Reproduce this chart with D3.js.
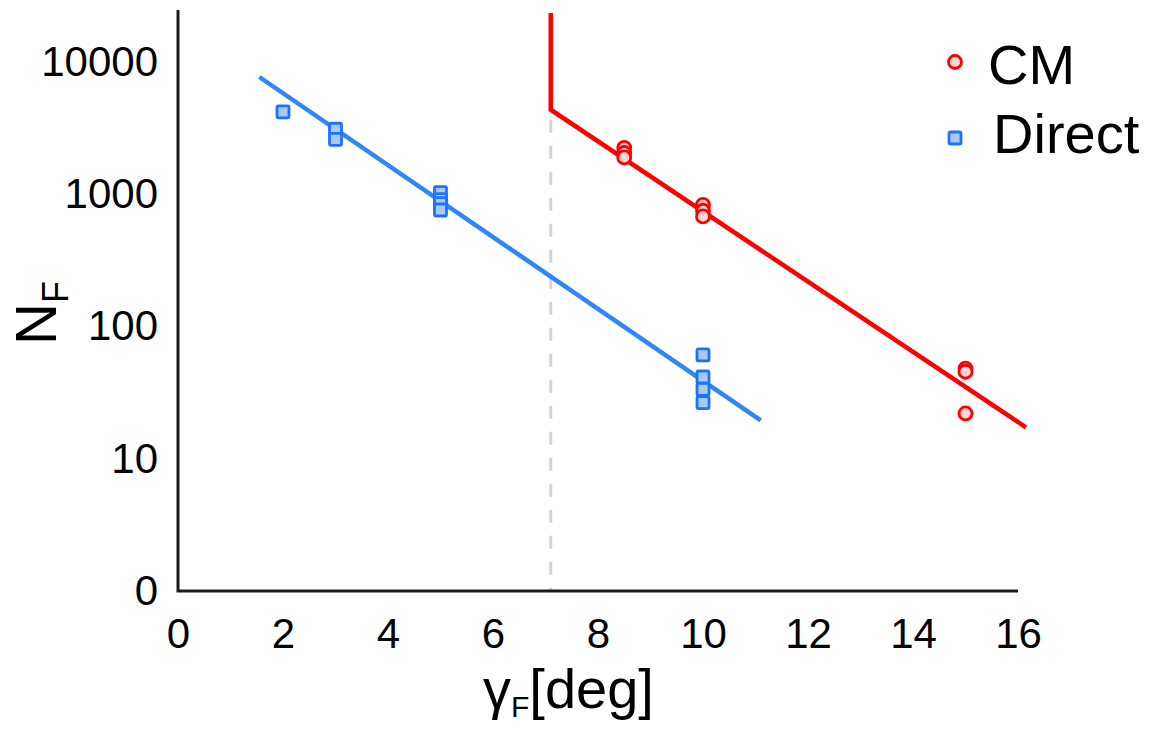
<!DOCTYPE html>
<html>
<head>
<meta charset="utf-8">
<script src="https://cdn.jsdelivr.net/npm/d3@7"></script>
<style>
  body { margin: 0; background: #fff; }
  svg { font-family: 'Liberation Sans', Arial, sans-serif; }
</style>
</head>
<body>
<div id="chart"></div>
<script>
// data
const cmX = [8.5, 8.5, 8.5, 10, 10, 10, 15, 15, 15];
const cmY = [2240, 2050, 1900, 830, 750, 680, 48, 45.5, 22];
const directX = [2, 3, 3, 5, 5, 5, 5, 10, 10, 10, 10];
const directY = [4200, 3100, 2600, 1030, 910, 850, 760, 61, 41.5, 33.5, 26.6];
// fitted lines
const cmFit = [[7.1, 23500], [7.1, 4360], [16.15, 17.3]];
const directFit = [[1.55, 7700], [11.1, 19.5]];
const thresholdX = 7.1;
const xTicks = [0, 2, 4, 6, 8, 10, 12, 14, 16];
const yTicks = [1, 10, 100, 1000, 10000];

const W = 1160;
const H = 731;

const svg = d3.select('#chart').append('svg')
  .attr('width', W)
  .attr('height', H);

const x = d3.scaleLinear().domain([0, 16]).range([178, 1018]);
const y = d3.scaleLog().domain([1, 10000]).range([591, 62]);

const red = '#ff0000';
const blue = '#2f86f6';

// axes
const xAxis = d3.axisBottom(x)
  .tickValues(xTicks)
  .tickSize(0)
  .tickPadding(27);

const yAxis = d3.axisLeft(y)
  .tickValues(yTicks)
  .tickSize(0)
  .tickPadding(20)
  .tickFormat(d => d === 1 ? '0' : String(d));

const gx = svg.append('g')
  .attr('transform', `translate(0, ${y(1)})`)
  .call(xAxis);
gx.select('.domain').remove();
gx.selectAll('text').style('font-size', '42px').attr('fill', '#000');

const gy = svg.append('g')
  .attr('transform', `translate(${x(0)}, 0)`)
  .call(yAxis);
gy.select('.domain').remove();
gy.selectAll('text').style('font-size', '42px').attr('fill', '#000');

// dashed threshold
svg.append('line')
  .attr('x1', x(thresholdX)).attr('x2', x(thresholdX))
  .attr('y1', y(4360) + 10).attr('y2', y(1))
  .attr('stroke', '#d4d4d4')
  .attr('stroke-width', 3)
  .attr('stroke-dasharray', '13,13');

// axis lines
svg.append('path')
  .attr('d', `M${x(0)},10V${y(1)}H${x(16)}`)
  .attr('fill', 'none')
  .attr('stroke', '#1a1a1a')
  .attr('stroke-width', 3);

const line = d3.line()
  .x(d => x(d[0]))
  .y(d => y(d[1]));

svg.append('path')
  .datum(directFit)
  .attr('d', line)
  .attr('fill', 'none')
  .attr('stroke', blue)
  .attr('stroke-width', 4.5);

svg.append('path')
  .datum(cmFit)
  .attr('d', line)
  .attr('fill', 'none')
  .attr('stroke', red)
  .attr('stroke-width', 4.5);

// markers
const sq = 12;
svg.append('g').selectAll('rect')
  .data(directX.map((d, i) => [d, directY[i]]))
  .enter().append('rect')
  .attr('x', d => x(d[0]) - sq / 2)
  .attr('y', d => y(d[1]) - sq / 2)
  .attr('width', sq)
  .attr('height', sq)
  .attr('rx', 1.5)
  .attr('fill', '#a9c9fb')
  .attr('stroke', '#1b74ff')
  .attr('stroke-width', 2.8);

svg.append('g').selectAll('circle')
  .data(cmX.map((d, i) => [d, cmY[i]]))
  .enter().append('circle')
  .attr('cx', d => x(d[0]))
  .attr('cy', d => y(d[1]))
  .attr('r', 6.5)
  .attr('fill', '#ffd6d6')
  .attr('stroke', red)
  .attr('stroke-width', 2.8);

// axis titles
const xt = svg.append('text')
  .attr('x', 483)
  .attr('y', 708)
  .style('font-size', '56px')
  .attr('fill', '#000');
xt.append('tspan').text('γ');
xt.append('tspan').text('F').style('font-size', '30px').attr('dy', 9);
xt.append('tspan').text('[deg]').attr('dy', -9);

const yt = svg.append('text')
  .attr('transform', 'translate(56, 345) rotate(-90)')
  .style('font-size', '58px')
  .attr('fill', '#000');
yt.append('tspan').text('N');
yt.append('tspan').text('F').style('font-size', '36px').attr('dy', 12);

// legend
const legend = svg.append('g');
legend.append('circle')
  .attr('cx', 955).attr('cy', 62).attr('r', 6.5)
  .attr('fill', '#ffd6d6')
  .attr('stroke', red)
  .attr('stroke-width', 2.8);
legend.append('text')
  .attr('x', 988).attr('y', 84)
  .style('font-size', '56px')
  .text('CM');
legend.append('rect')
  .attr('x', 955 - sq / 2).attr('y', 138 - sq / 2)
  .attr('width', sq).attr('height', sq).attr('rx', 1.5)
  .attr('fill', '#a9c9fb')
  .attr('stroke', '#1b74ff')
  .attr('stroke-width', 2.8);
legend.append('text')
  .attr('x', 993).attr('y', 153)
  .style('font-size', '56px')
  .text('Direct');
</script>
</body>
</html>
